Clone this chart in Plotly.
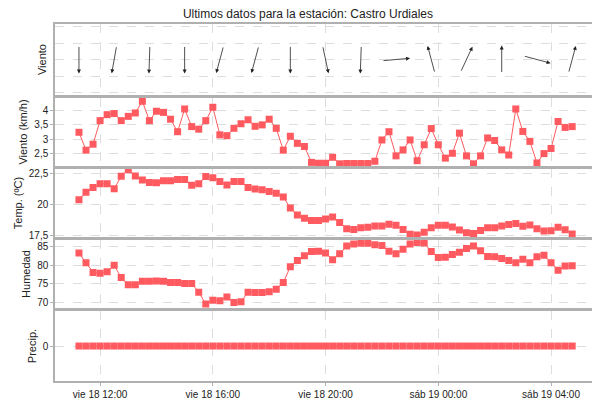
import math
import pandas as pd
import plotly.graph_objects as go
from plotly.subplots import make_subplots

times = pd.date_range("2023-08-18 11:15", periods=71, freq="15min")

viento_kmh = [3.24, 2.61, 2.82, 3.65, 3.86, 3.9, 3.65, 3.8, 3.92, 4.33, 3.65, 3.98, 3.94, 3.7, 3.26,
              4.06, 3.44, 3.35, 3.65, 4.12, 3.15, 3.12, 3.38, 3.54, 3.68, 3.45, 3.5, 3.7, 3.38, 2.61,
              3.1, 2.85, 2.74, 2.18, 2.15, 2.15, 2.36, 2.13, 2.14, 2.14, 2.14, 2.14, 2.22, 2.97, 3.26,
              2.41, 2.62, 2.97, 2.24, 2.8, 3.37, 2.8, 2.33, 2.5, 3.21, 2.41, 2.13, 2.41, 3.04, 2.95,
              2.62, 2.44, 4.06, 3.27, 2.92, 2.16, 2.49, 2.67, 3.62, 3.41, 3.44]

temp = [20.39, 21.01, 21.38, 21.69, 21.69, 21.29, 22.3, 22.84, 22.33, 21.99, 21.8, 21.77, 21.94, 21.94,
        22.05, 22.05, 21.57, 21.69, 22.28, 22.19, 21.88, 21.6, 21.88, 21.88, 21.38, 21.26, 21.21, 21.07,
        20.93, 20.62, 19.72, 19.16, 18.88, 18.71, 18.71, 18.82, 18.99, 18.54, 18.03, 17.98, 18.12, 18.15,
        18.26, 18.26, 18.4, 18.31, 17.98, 17.58, 17.53, 17.75, 18.12, 18.31, 18.31, 18.17, 17.92, 17.7,
        17.64, 17.89, 18.12, 18.12, 18.26, 18.37, 18.45, 18.23, 18.34, 18.03, 17.84, 17.87, 18.15, 17.95,
        17.61]

humedad = [83.3, 80.7, 78.1, 77.9, 78.3, 80.0, 76.7, 74.8, 74.8, 75.7, 75.7, 75.8, 75.7, 75.4, 75.4,
           75.1, 75.1, 72.8, 69.6, 70.6, 70.5, 71.5, 70.0, 70.2, 72.8, 72.7, 72.7, 72.9, 73.6, 75.4,
           79.6, 81.3, 82.6, 83.7, 83.8, 83.3, 81.5, 83.1, 85.2, 85.7, 85.9, 85.9, 85.5, 85.3, 83.8,
           83.1, 84.3, 85.7, 86.1, 86.0, 83.7, 82.1, 82.2, 82.9, 83.5, 84.5, 85.2, 83.9, 82.4, 82.3,
           81.8, 81.3, 80.7, 81.6, 80.7, 82.3, 82.7, 80.7, 78.7, 79.8, 79.9]

precip = [0] * 71

# wind direction every 5th sample (degrees, arrow pointing direction, clockwise from north)
dir_times = times[::5]
dir_grados = [180, 190, 182, 180, 195, 195, 180, 168, 182, 85, 345, 25, 0, 105, 15]

tick_vals = ["2023-08-18 12:00", "2023-08-18 16:00", "2023-08-18 20:00",
             "2023-08-19 00:00", "2023-08-19 04:00"]
tick_text = ["vie 18 12:00", "vie 18 16:00", "vie 18 20:00", "sáb 19 00:00", "sáb 19 04:00"]

fmt = "%Y-%m-%d %H:%M:%S"
x_str = [t.strftime(fmt) for t in times]

rojo = "#ff5a5f"
fig = make_subplots(rows=5, cols=1, shared_xaxes=True, vertical_spacing=0.008)

# invisible trace so the top panel has data
fig.add_trace(go.Scatter(x=[x_str[0], x_str[-1]], y=[0, 0], mode="markers",
                         marker=dict(opacity=0), hoverinfo="skip"), row=1, col=1)

for i, serie in enumerate([viento_kmh, temp, humedad, precip]):
    fig.add_trace(go.Scatter(x=x_str, y=serie, mode="lines+markers",
                             line=dict(color=rojo, width=1),
                             marker=dict(symbol="square", size=7, color=rojo)),
                  row=i + 2, col=1)

# arrows for wind direction
half_min = 30
half_v = 0.85
for t, d in zip(dir_times, dir_grados):
    s, c = math.sin(math.radians(d)), math.cos(math.radians(d))
    off = pd.Timedelta(seconds=round(half_min * 60 * s))
    fig.add_annotation(x=(t + off).strftime(fmt), y=half_v * c,
                       ax=(t - off).strftime(fmt), ay=-half_v * c,
                       xref="x", yref="y", axref="x", ayref="y", text="", showarrow=True,
                       arrowhead=2, arrowsize=1, arrowwidth=0.8, arrowcolor="#222222")

domains = [[0.801, 1.0], [0.602, 0.793], [0.403, 0.594], [0.204, 0.395], [0.0, 0.196]]
titles = ["Viento", "Viento (km/h)", "Temp. (ºC)", "Humedad", "Precip."]
ranges = [[-2.15, 2.15], [2.05, 4.45], [17.35, 22.9], [68.5, 86.8], [-1, 1]]
for i in range(5):
    ax = dict(domain=domains[i], range=ranges[i], showline=True, mirror=True, linecolor="#b0b0b0",
              linewidth=1.5, gridcolor="#dddddd", griddash="dash", zeroline=False,
              title=dict(text=titles[i], standoff=4, font=dict(size=11)), ticks="outside",
              ticklen=3, tickcolor="#b0b0b0")
    if i == 0:
        ax.update(dtick=1, showticklabels=False, ticks="")
    elif i == 1:
        ax.update(tickvals=[2.5, 3, 3.5, 4], ticktext=["2,5", "3", "3,5", "4"])
    elif i == 2:
        ax.update(tickvals=[17.5, 20, 22.5], ticktext=["17,5", "20", "22,5"])
    elif i == 3:
        ax.update(tickvals=[70, 75, 80, 85])
    else:
        ax.update(tickvals=[0])
    fig.update_layout(**{"yaxis" + ("" if i == 0 else str(i + 1)): ax})

fig.update_xaxes(range=["2023-08-18 10:24", "2023-08-19 05:40"],
                 tickvals=tick_vals, ticktext=tick_text, showline=True, mirror=True,
                 linecolor="#b0b0b0", linewidth=1.5, gridcolor="#dddddd", griddash="dash",
                 ticks="outside", ticklen=3, tickcolor="#b0b0b0")

fig.update_layout(width=600, height=400, showlegend=False, plot_bgcolor="white", paper_bgcolor="white",
                  margin=dict(l=47, r=8, t=16, b=17),
                  font=dict(family="Liberation Sans, Arial", size=10, color="#222222"),
                  title=dict(text="Últimos datos para la estación: Castro Urdiales", x=0.5, y=0.995,
                             yanchor="top", font=dict(size=12)))

fig.write_html("out.html")
